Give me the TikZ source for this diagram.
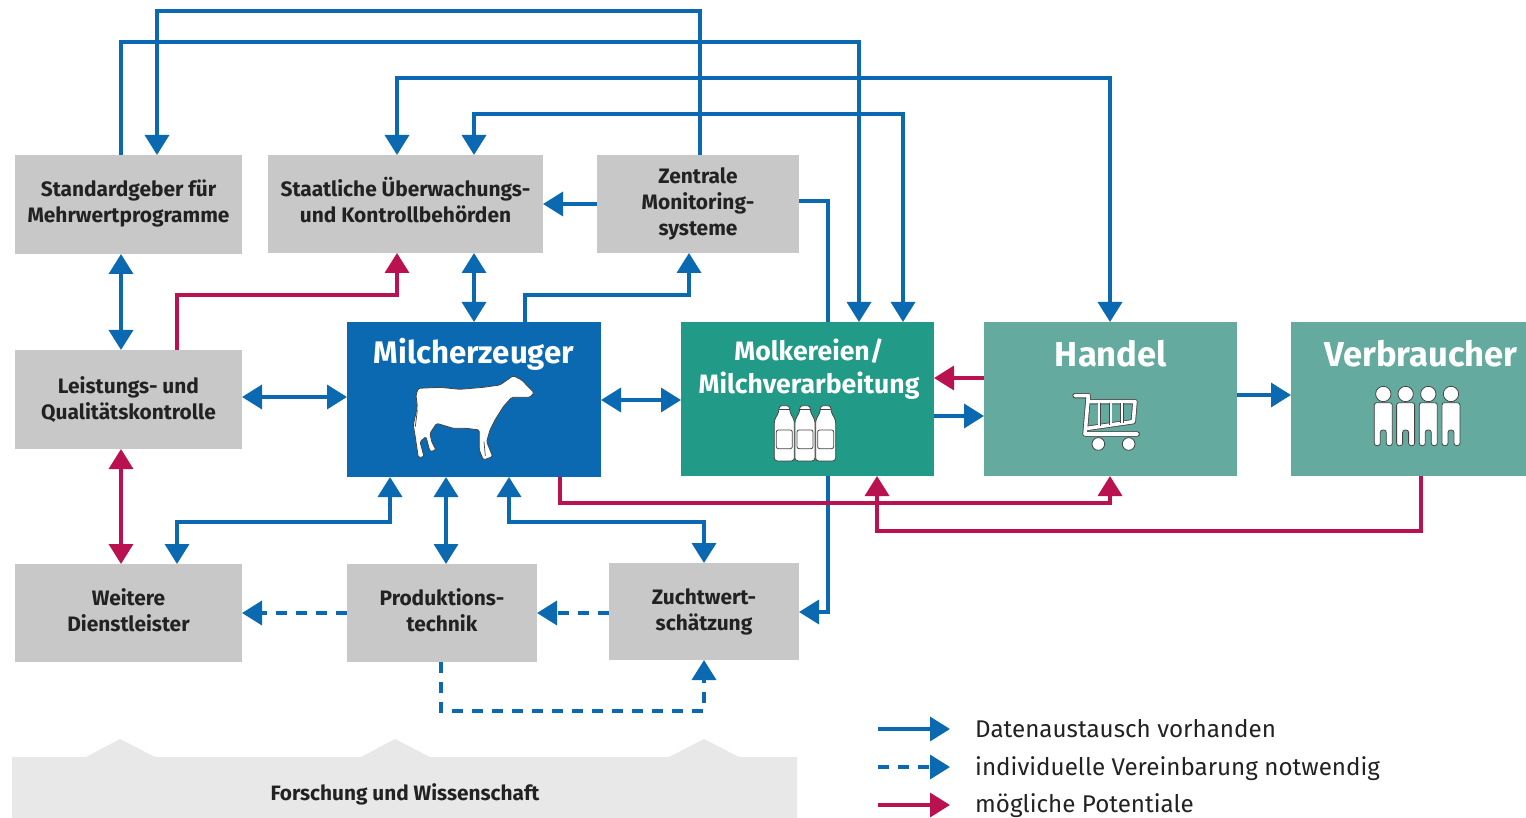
\documentclass[tikz,border=0pt]{standalone}
\usepackage{fontspec}
\setmainfont{Fira Sans}
\usetikzlibrary{arrows.meta,backgrounds}
\definecolor{cblue}{HTML}{0A69B0}
\definecolor{cred}{HTML}{BA1150}
\definecolor{cgray}{HTML}{C8C8C8}
\definecolor{cteal}{HTML}{219A87}
\definecolor{cteall}{HTML}{64AA9E}
\definecolor{clight}{HTML}{E8E8E8}
\definecolor{ctext}{HTML}{222222}
\definecolor{coutl}{HTML}{444444}
\tikzset{
  box/.style={anchor=north west,inner sep=0pt,outer sep=0pt,align=center,font=\bfseries\fontsize{20.9}{26}\selectfont},
  graybox/.style={box,fill=cgray,text=ctext},
  title/.style={inner sep=0pt,text=white,align=center},
  conn/.style={line width=3.5pt,draw=cblue},
  pot/.style={line width=3.5pt,draw=cred},
  dsh/.style={conn,dash pattern=on 11pt off 9pt},
  one/.style={-{Triangle[length=20pt,width=24pt]}},
  both/.style={{Triangle[length=20pt,width=24pt]}-{Triangle[length=20pt,width=24pt]}},
  icon/.style={fill=white,draw=coutl,line width=.8pt},
  legend/.style={anchor=west,inner sep=0pt,text=ctext,font=\fontsize{24.2}{28}\selectfont},
  bottle/.pic={
    \path[icon,rounded corners=3pt] (-16,-1) -- (-16,18) -- (-30,42) -- (-30,165) -- (30,165) -- (30,42) -- (16,18) -- (16,-1) -- cycle;
    \path[icon,rounded corners=2pt] (-24,72) rectangle (24,128);
    \draw[coutl,line width=.7pt] (-16,10) -- (16,10);
  },
  person/.pic={
    \path[icon] (0,0) circle (23);
    \path[icon,rounded corners=2.5pt] (-27,155) -- (-27,26) -- (27,26) -- (27,155) -- (9,155) -- (9,108) -- (-9,108) -- (-9,155) -- cycle;
  },
}
\begin{document}
\begin{tikzpicture}[x=1pt,y=-1pt]
\useasboundingbox (0,0) rectangle (1526,818);
% Forschung band
\path[fill=clight] (12,818) -- (12,757) -- (86,757) -- (120,739) -- (155,757) -- (361,757) -- (395,739) -- (430,757) -- (669,757) -- (704,739) -- (739,757) -- (797,757) -- (797,818) -- cycle;
\node[inner sep=0pt,text=ctext,font=\bfseries\fontsize{20.8}{24}\selectfont] (for) at (405,794) {Forschung und Wissenschaft};
% boxes
\node[graybox,minimum width=227pt,minimum height=99pt,text depth=7pt] (std) at (15,155) {Standardgeber für\\Mehrwertprogramme};
\node[graybox,minimum width=275pt,minimum height=98pt,text depth=8pt] (sta) at (268,155) {Staatliche Überwachungs-\\und Kontrollbehörden};
\node[graybox,minimum width=202pt,minimum height=98pt] (zen) at (597,155) {Zentrale\\Monitoring-\\systeme};
\node[graybox,minimum width=227pt,minimum height=99pt] (lei) at (15,350) {Leistungs- und\\Qualitätskontrolle};
\node[box,fill=cblue,minimum width=254pt,minimum height=155pt] (mil) at (347,322) {};
\node[box,fill=cteal,minimum width=253pt,minimum height=154pt] (mol) at (681,322) {};
\node[box,fill=cteall,minimum width=253pt,minimum height=154pt] (han) at (984,322) {};
\node[box,fill=cteall,minimum width=235pt,minimum height=154pt] (ver) at (1291,322) {};
\node[graybox,minimum width=227pt,minimum height=98pt,text depth=6pt] (wei) at (15,564) {Weitere\\Dienstleister};
\node[graybox,minimum width=190pt,minimum height=98pt,text depth=6pt] (pro) at (347,564) {Produktions-\\technik};
\node[graybox,minimum width=190pt,minimum height=97pt] (zuc) at (609,563) {Zuchtwert-\\schätzung};
% titles
\node[title,font=\bfseries\fontsize{31.2}{33}\selectfont] (milT) at (474,354) {Milcherzeuger};
\node[title,font=\bfseries\fontsize{26.6}{33}\selectfont] (molT) at (809,369) {Molkereien/\\Milchverarbeitung};
\node[title,font=\bfseries\fontsize{34.6}{36}\selectfont] (hanT) at (1111,354) {Handel};
\node[title,font=\bfseries\fontsize{34.6}{36}\selectfont] (verT) at (1421,354) {Verbraucher};
% connector behind Molkereien
\begin{scope}[on background layer]
\draw[conn,one] (zen.east |- 0,201) -| (828,612) -- (zuc.east |- 0,612);
\end{scope}
% blue connectors
\draw[conn,one] (121,0 |- std.north) -- (121,42) -- (859,42) -- (859,0 |- mol.north);
\draw[conn,one] (700,0 |- zen.north) -- (700,11) -- (157,11) -- (157,0 |- std.north);
\draw[conn,both] (1110,0 |- han.north) -- (1110,78) -- (397,78) -- (397,0 |- sta.north);
\draw[conn,both] (903,0 |- mol.north) -- (903,114) -- (474,114) -- (474,0 |- sta.north);
\draw[conn,one] (zen.west |- 0,204) -- (sta.east |- 0,204);
\draw[conn,both] (121,0 |- std.south) -- (121,0 |- lei.north);
\draw[conn,both] (474,0 |- sta.south) -- (474,0 |- mil.north);
\draw[conn,one] (525,0 |- mil.north) -- (525,295) -- (689,295) -- (689,0 |- zen.south);
\draw[conn,both] (lei.east |- 0,397) -- (mil.west |- 0,397);
\draw[conn,both] (mil.east |- 0,400) -- (mol.west |- 0,400);
\draw[conn,one] (mol.east |- 0,416) -- (han.west |- 0,416);
\draw[conn,one] (han.east |- 0,395) -- (ver.west |- 0,395);
\draw[conn,both] (390,0 |- mil.south) -- (390,522) -- (177,522) -- (177,0 |- wei.north);
\draw[conn,both] (446,0 |- mil.south) -- (446,0 |- pro.north);
\draw[conn,both] (509,0 |- mil.south) -- (509,522) -- (704,522) -- (704,0 |- zuc.north);
% dashed
\draw[dsh,one] (pro.west |- 0,613) -- (wei.east |- 0,613);
\draw[dsh,one] (zuc.west |- 0,613) -- (pro.east |- 0,613);
\draw[dsh,one] (441,0 |- pro.south) -- (441,711) -- (704,711) -- (704,0 |- zuc.south);
% red connectors
\draw[pot,one] (177,0 |- lei.north) -- (177,295) -- (397,295) -- (397,0 |- sta.south);
\draw[pot,one] (han.west |- 0,378) -- (mol.east |- 0,378);
\draw[pot,both] (121,0 |- lei.south) -- (121,0 |- wei.north);
\draw[pot,one] (560,0 |- mil.south) -- (560,503) -- (1110,503) -- (1110,0 |- han.south);
\draw[pot,one] (1421,0 |- ver.south) -- (1421,531) -- (877,531) -- (877,0 |- mol.south);
% cow
\begin{scope}[shift={(340,310)},x=.3333pt,y=-.3333pt]
\path[icon,rounded corners=1.5pt] (235,235) -- (300,232) -- (360,238) -- (430,232) -- (480,225) -- (520,197) -- (545,210) -- (582,248) -- (570,262) -- (515,262) -- (490,290) -- (465,330) -- (450,360) -- (440,395) -- (458,440) -- (430,450) -- (418,420) -- (418,360) -- (380,355) -- (340,355) -- (290,340) -- (270,370) -- (275,395) -- (288,420) -- (270,425) -- (258,380) -- (240,395) -- (252,440) -- (235,443) -- (225,375) -- (220,345) -- (232,290) -- (228,255) -- cycle;
\draw[coutl,line width=.7pt] (432,395) -- (436,438) (232,300) -- (226,350);
\end{scope}
% bottles
\begin{scope}[shift={(680,310)},x=.3333pt,y=-.3333pt]
\pic at (313,288) {bottle};
\pic at (375,288) {bottle};
\pic at (437,288) {bottle};
\end{scope}
% cart
\begin{scope}[shift={(1050,320)},x=.3333pt,y=-.3333pt]
\foreach \w/\c in {5.2pt/coutl,3.6pt/white}{
  \draw[\c,line width=\w,line cap=round,line join=round] (75,227) -- (115,227) -- (105,342) -- (262,342);
  \draw[\c,line width=\w,line cap=round,line join=round] (115,245) -- (255,245) -- (250,305) -- (112,325);
}
\foreach \w/\c in {3.6pt/coutl,2.2pt/white}{
  \draw[\c,line width=\w] (148,248) -- (148,318) (182,248) -- (182,314) (216,248) -- (216,310);
}
\path[icon] (145,372) circle (19);
\path[icon] (236,372) circle (19);
\end{scope}
% people
\begin{scope}[shift={(1050,320)},x=.3333pt,y=-.3333pt]
\pic at (1000,222) {person};
\pic at (1067,222) {person};
\pic at (1135,222) {person};
\pic at (1203,222) {person};
\end{scope}
% legend
\coordinate (l1a) at (878,729); \coordinate (l1b) at (950,729);
\coordinate (l2a) at (878,767); \coordinate (l2b) at (950,767);
\coordinate (l3a) at (878,805); \coordinate (l3b) at (950,805);
\draw[conn,one] (l1a) -- (l1b);
\draw[dsh,one] (l2a) -- (l2b);
\draw[pot,one] (l3a) -- (l3b);
\node[legend] (t1) at (975,729) {Datenaustausch vorhanden};
\node[legend] (t2) at (975,769) {individuelle Vereinbarung notwendig};
\node[legend] (t3) at (975,806) {mögliche Potentiale};
\end{tikzpicture}
\end{document}
